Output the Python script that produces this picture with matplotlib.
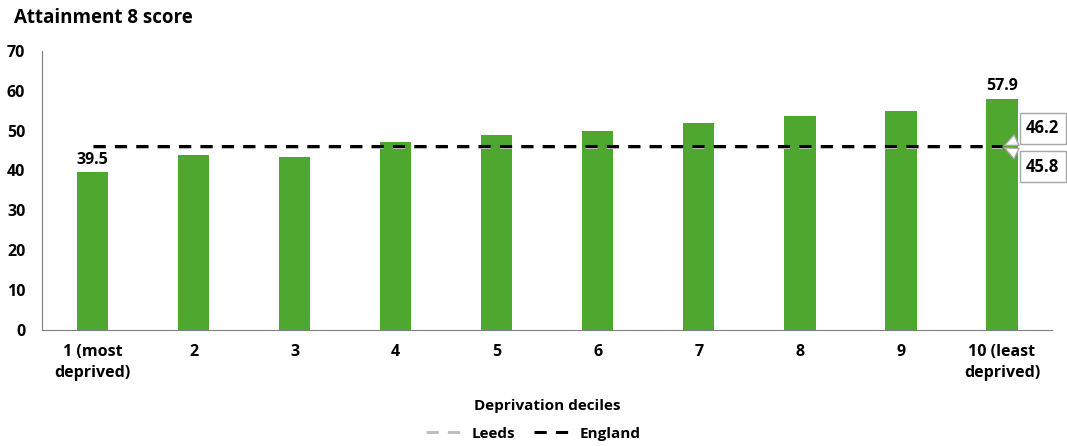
import matplotlib.pyplot as plt
import numpy as np

plt.rcParams['font.family'] = ['Open Sans', 'DejaVu Sans']
plt.rcParams['font.weight'] = 'bold'

deciles = ["1 (most\ndeprived)", "2", "3", "4", "5", "6", "7", "8", "9", "10 (least\ndeprived)"]
scores = [39.5, 43.9, 43.4, 47.2, 48.9, 49.9, 51.9, 53.7, 54.9, 57.9]
leeds_avg = 45.8
england_avg = 46.2

fig = plt.figure(figsize=(10.67, 4.46), dpi=100)
ax = fig.add_axes([0.0394, 0.260, 0.947, 0.626])

x = np.arange(len(deciles))
ax.bar(x, scores, width=0.31, color='#4ea72e', zorder=2)

# average lines
ax.plot([x[0], x[-1]], [leeds_avg] * 2, color='#bfbfbf', lw=2.2, dashes=(4, 3), zorder=3, label='Leeds')
ax.plot([x[0], x[-1]], [england_avg] * 2, color='black', lw=2.2, dashes=(4, 3), zorder=4, label='England')

# data labels on first and last bar
for i in [0, len(scores) - 1]:
    ax.text(x[i], scores[i] + 1.2, f"{scores[i]:.1f}", ha='center', va='bottom', fontsize=11.5, fontweight='bold')

# callouts for averages
box = dict(boxstyle='square,pad=0.4', fc='white', ec='#a6a6a6', lw=1)
arrow = dict(arrowstyle='wedge,tail_width=0.7,shrink_factor=0.5', fc='white', ec='#a6a6a6', lw=1)
ax.annotate(f"{england_avg:.1f}", xy=(x[-1], 46.0), xytext=(x[-1] + 0.24, 50.6), ha='left', va='center',
            fontsize=12, fontweight='bold', bbox=box, arrowprops=arrow, zorder=6)
ax.annotate(f"{leeds_avg:.1f}", xy=(x[-1], 46.0), xytext=(x[-1] + 0.24, 41.0), ha='left', va='center',
            fontsize=12, fontweight='bold', bbox=box, arrowprops=arrow, zorder=6)

ax.set_xlim(-0.5, 9.5)
ax.set_ylim(0, 70)
ax.set_yticks(range(0, 71, 10))
ax.set_xticks(x)
ax.set_xticklabels(deciles, fontsize=11.5, fontweight='bold', linespacing=1.4)
ax.tick_params(axis='y', labelsize=11.5, length=0, pad=12)
ax.tick_params(axis='x', length=0, pad=10)
for s in ['top', 'right']:
    ax.spines[s].set_visible(False)
ax.spines['left'].set_color('#7f7f7f')
ax.spines['bottom'].set_color('#7f7f7f')
ax.set_xlabel("Deprivation deciles", fontsize=11, fontweight='bold', labelpad=13)

fig.text(0.013, 0.96, "Attainment 8 score", fontsize=13.5, fontweight='bold', va='center')
fig.legend(loc='center', bbox_to_anchor=(0.5, 0.028), ncol=2, frameon=False, fontsize=11,
           handlelength=2.2, columnspacing=1.2)

plt.savefig("out.png", dpi=100)
